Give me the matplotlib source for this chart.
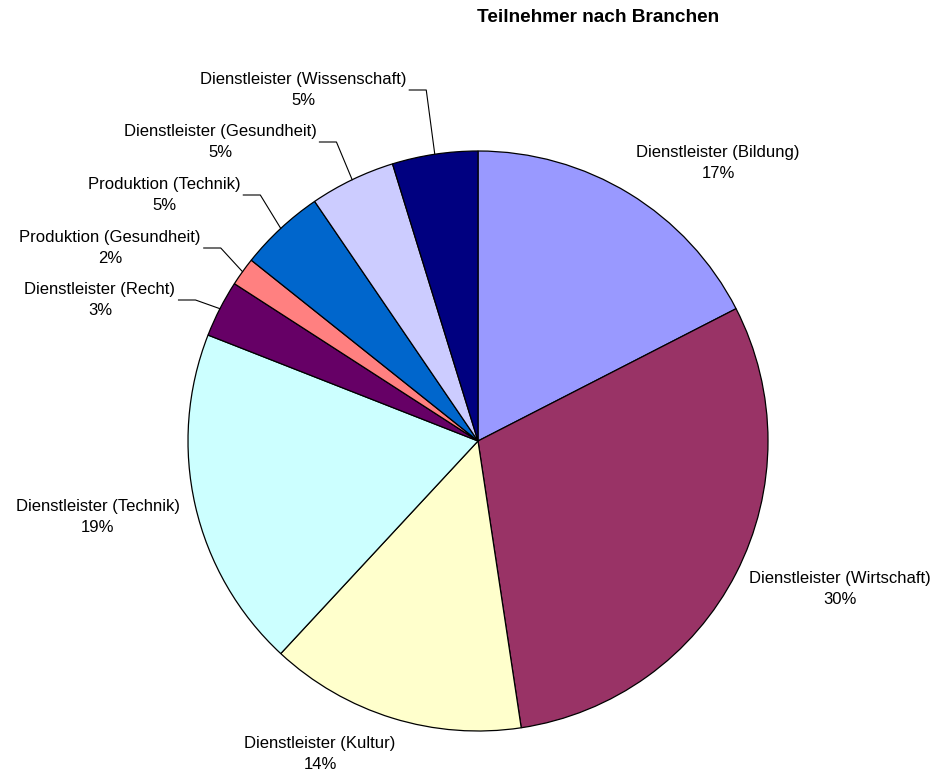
import numpy as np
import matplotlib
matplotlib.use('Agg')
import matplotlib.pyplot as plt

plt.rcParams['font.family'] = ['Liberation Sans', 'DejaVu Sans']

# data: participants per sector (clockwise from 12 o'clock)
branchen = ['Dienstleister (Bildung)', 'Dienstleister (Wirtschaft)',
            'Dienstleister (Kultur)', 'Dienstleister (Technik)',
            'Dienstleister (Recht)', 'Produktion (Gesundheit)',
            'Produktion (Technik)', 'Dienstleister (Gesundheit)',
            'Dienstleister (Wissenschaft)']
anzahl = [11, 19, 9, 12, 2, 1, 3, 3, 3]
farben = ['#9999FF', '#993366', '#FFFFCC', '#CCFFFF', '#660066',
          '#FF8080', '#0066CC', '#CCCCFF', '#000080']

W, H = 934, 772
fig = plt.figure(figsize=(W / 100, H / 100), dpi=100)
ax = fig.add_axes([0, 0, 1, 1])

cx, cy, r = 478, H - 441, 290
wedges, _ = ax.pie(anzahl, colors=farben, startangle=90, counterclock=False,
                   center=(cx, cy), radius=r,
                   wedgeprops=dict(edgecolor='black', linewidth=0.9))
ax.set_xlim(0, W)
ax.set_ylim(0, H)
ax.set_aspect('equal')
ax.axis('off')

total = sum(anzahl)
pct = ['{:.0f}%'.format(100.0 * n / total) for n in anzahl]

# label centres (pixel coords, y from top) and whether a leader line is drawn
label_pos = [(718, 163, False), (840, 589, False), (320, 754, False),
             (98, 517, False), (100, 300, True), (110, 248, True),
             (164, 195, True), (220, 142, True), (303, 90, True)]

renderer = fig.canvas.get_renderer()
for w, name, p, (lx, ly, leader) in zip(wedges, branchen, pct, label_pos):
    t = ax.text(lx, H - ly, name + '\n' + p, ha='center', va='center',
                fontsize=12, linespacing=1.45)
    if leader:
        ang = np.deg2rad((w.theta1 + w.theta2) / 2)
        ex, ey = cx + r * np.cos(ang), cy + r * np.sin(ang)
        bb = t.get_window_extent(renderer)
        x0 = bb.x1 + 3
        x1 = x0 + 17
        ax.plot([x0, x1, ex], [H - ly, H - ly, ey], color='black', lw=0.8)

ax.text(598, H - 18, 'Teilnehmer nach Branchen', ha='center', va='center',
        fontsize=13.7, fontweight='bold')

plt.savefig('out.png', dpi=100)
